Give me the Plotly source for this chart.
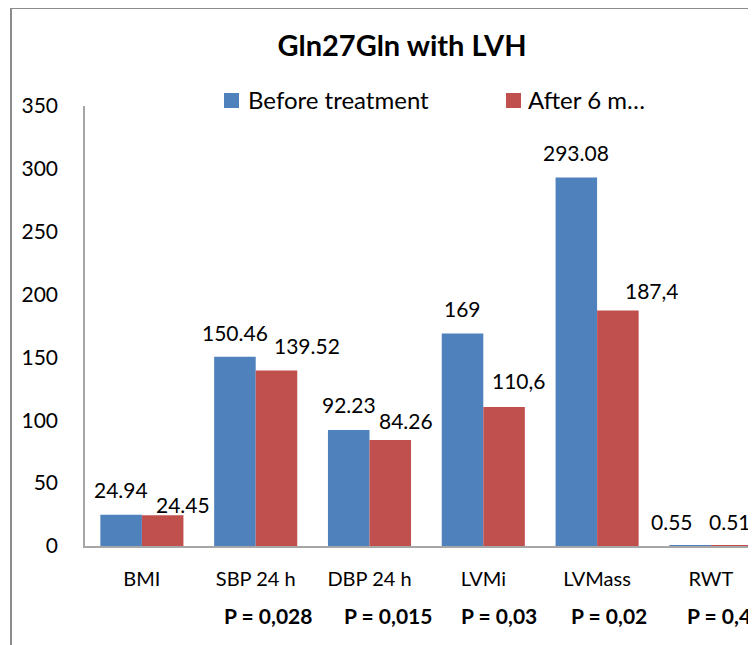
import plotly.graph_objects as go

# ---- data ----
categories = ["BMI", "SBP 24 h", "DBP 24 h", "LVMi", "LVMass", "RWT"]
before = [24.94, 150.46, 92.23, 169, 293.08, 0.55]
after = [24.45, 139.52, 84.26, 110.6, 187.4, 0.51]
before_labels = ["24.94", "150.46", "92.23", "169", "293.08", "0.55"]
after_labels = ["24.45", "139.52", "84.26", "110,6", "187,4", "0.51"]
p_labels = ["", "P = 0,028", "P = 0,015", "P = 0,03", "P = 0,02", "P = 0,49"]
series_names = ["Before treatment", "After 6 m…"]
y_ticks = [0, 50, 100, 150, 200, 250, 300, 350]

# ---- style ----
OFF = 8                      # page body margin
W, H = 756 - OFF, 645 - OFF  # figure size so it fits the window exactly
# plot area in window pixels: x 85..756, y 106..546
ML, MR, MT, MB = 85 - OFF, 0, 106 - OFF, H - (546 - OFF)
BLUE, RED = "#4F81BD", "#C0504D"
FONT = "Lato"
CAT_PX = 113.8
# label offsets (pixels) relative to category centre / bar top
before_dx = [-21, -21, -21, -21, -21, -39]
before_dy = [25, 24, 26, 25, 25, 24]
after_dx = [41, 51, 36, 36, 55, 19]
after_dy = [11, 25, 20, 26, 20, 24]
p_dx = [0, 12, 18, 16, 12, 14]

pw = W - ML - MR
ph = H - MT - MB
def px(sx):   # window x -> paper x
    return (sx - OFF - ML) / pw
def py(sy):   # window y -> paper y
    return (H - MB - (sy - OFF)) / ph

fig = go.Figure()
fig.add_trace(go.Bar(x=categories, y=before, name=series_names[0],
                     marker=dict(color=BLUE, line=dict(width=0))))
fig.add_trace(go.Bar(x=categories, y=after, name=series_names[1],
                     marker=dict(color=RED, line=dict(width=0))))

annotations = []
for i, c in enumerate(categories):
    annotations.append(dict(x=c, y=before[i], xref="x", yref="y", text=before_labels[i],
                            showarrow=False, xanchor="center", yanchor="middle",
                            xshift=before_dx[i], yshift=before_dy[i],
                            font=dict(family=FONT, size=21, color="black")))
    annotations.append(dict(x=c, y=after[i], xref="x", yref="y", text=after_labels[i],
                            showarrow=False, xanchor="center", yanchor="middle",
                            xshift=after_dx[i], yshift=after_dy[i],
                            font=dict(family=FONT, size=21, color="black")))
    if p_labels[i]:
        annotations.append(dict(x=c, y=py(615), xref="x", yref="paper",
                                text="<b>" + p_labels[i] + "</b>", showarrow=False,
                                xanchor="center", yanchor="middle", xshift=p_dx[i],
                                font=dict(family=FONT, size=21, color="black")))

# legend (drawn manually to match the original spacing)
legend_colors = [BLUE, RED]
legend_sq_x = [224, 506]
legend_txt_x = [246, 526]
shapes = []
for name, col, sqx, tx in zip(series_names, legend_colors, legend_sq_x, legend_txt_x):
    shapes.append(dict(type="rect", xref="paper", yref="paper",
                       x0=px(sqx), x1=px(sqx + 15), y0=py(108), y1=py(93),
                       fillcolor=col, line=dict(width=0)))
    annotations.append(dict(x=px(tx), y=py(100), xref="paper", yref="paper", text=name,
                            showarrow=False, xanchor="left", yanchor="middle",
                            font=dict(family=FONT, size=24, color="black")))

# outer chart border (left and top edges visible)
shapes += [
    dict(type="line", xref="paper", yref="paper",
         x0=px(11), x1=px(11), y0=py(660), y1=py(7),
         line=dict(color="#8c8c8c", width=2)),
    dict(type="line", xref="paper", yref="paper",
         x0=px(11), x1=px(770), y0=py(8), y1=py(8),
         line=dict(color="#8c8c8c", width=2)),
]

fig.update_layout(
    width=W, height=H,
    margin=dict(l=ML, r=MR, t=MT, b=MB, pad=0),
    paper_bgcolor="white", plot_bgcolor="white",
    barmode="group", bargap=0.27, bargroupgap=0,
    font=dict(family=FONT, color="black"),
    title=dict(text="<b>Gln27Gln with LVH</b>", x=(402 - OFF) / W, xanchor="center",
               y=1 - (46 - OFF) / H, yanchor="middle", font=dict(family=FONT, size=29, color="black")),
    showlegend=False,
    xaxis=dict(range=[-0.5, -0.5 + pw / CAT_PX], showline=True, linecolor="#a6a6a6", linewidth=1.5,
               ticks="outside", ticklen=14, tickcolor="rgba(0,0,0,0)", showgrid=False, zeroline=False,
               tickfont=dict(family=FONT, size=20, color="black"), fixedrange=True),
    yaxis=dict(range=[0, 350], tickvals=y_ticks, showline=True, linecolor="#a6a6a6", linewidth=1.5,
               ticks="", showgrid=False, zeroline=False, ticklabelstandoff=21,
               tickfont=dict(family=FONT, size=21, color="black"), fixedrange=True),
    annotations=annotations,
    shapes=shapes,
)

fig.write_html("out.html")
